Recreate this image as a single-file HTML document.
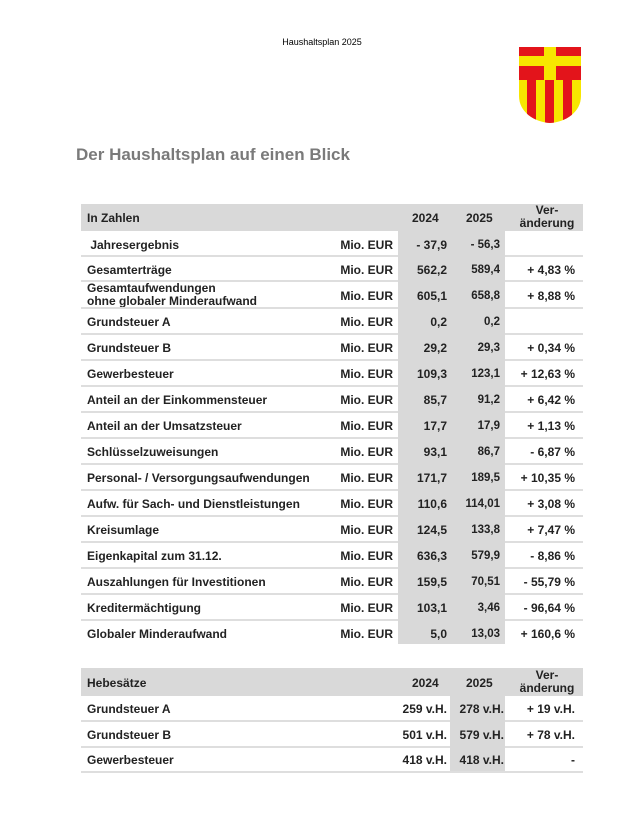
<!DOCTYPE html>
<html><head><meta charset="utf-8"><style>
body{margin:0;background:#fff;width:644px;height:838px;position:relative;font-family:"Liberation Sans",Arial,sans-serif;font-weight:bold;color:#222;}
.hdr{position:absolute;top:37px;left:0;width:644px;text-align:center;font-size:9px;font-weight:normal;color:#000}
.title{position:absolute;left:76px;top:145px;font-size:17px;color:#7a7a7a}
.t{position:absolute;left:81px;width:502px}
.g{position:absolute;background:#d9d9d9}
.s{position:absolute;left:0;width:502px;height:2px;background:#dedede}
.c{position:absolute;white-space:nowrap}
</style></head><body>
<div class="hdr">Haushaltsplan 2025</div>
<svg style="position:absolute;left:518px;top:46px" width="64" height="78" viewBox="0 0 64 78">
<defs><clipPath id="sh"><path d="M1,1H63V50C63,66 48,76 32,77C16,76 1,66 1,50Z"/></clipPath></defs>
<g clip-path="url(#sh)">
<rect width="64" height="78" fill="#f7e600"/>
<rect x="0" y="1" width="64" height="33" fill="#e3141b"/>
<rect x="0" y="10" width="64" height="10" fill="#f7e600"/>
<rect x="26" y="1" width="12" height="33" fill="#f7e600"/>
<rect x="9" y="34" width="9" height="44" fill="#e3141b"/>
<rect x="27" y="34" width="9" height="44" fill="#e3141b"/>
<rect x="45" y="34" width="9" height="44" fill="#e3141b"/>
</g></svg>
<div class="title">Der Haushaltsplan auf einen Blick</div>

<div class="t" style="top:204px;height:442px">
<div class="g" style="left:0;top:0;width:502px;height:27px"></div>
<div class="g" style="left:317px;top:27px;width:107px;height:413px"></div>
<div class="c" style="left:6px;top:7px;font-size:12px">In Zahlen</div>
<div class="c" style="left:331px;top:7px;font-size:12px">2024</div>
<div class="c" style="left:385px;top:7px;font-size:12px">2025</div>
<div class="c" style="left:436px;top:0px;font-size:12px;text-align:center;width:60px;line-height:13px">Ver-<br>änderung</div>
<div id="rows"></div>
</div>

<div class="t" style="top:668px;height:106px">
<div class="g" style="left:0;top:0;width:502px;height:28px"></div>
<div class="g" style="left:369px;top:28px;width:55px;height:76px"></div>
<div class="c" style="left:6px;top:8px;font-size:12px">Hebesätze</div>
<div class="c" style="left:331px;top:8px;font-size:12px">2024</div>
<div class="c" style="left:385px;top:8px;font-size:12px">2025</div>
<div class="c" style="left:436px;top:1px;font-size:12px;text-align:center;width:60px;line-height:13px">Ver-<br>änderung</div>
<div class="c" style="left:6px;top:34px;font-size:12px">Grundsteuer A</div>
<div class="c" style="right:136px;top:34px;font-size:12px">259 v.H.</div>
<div class="c" style="right:79px;top:34px;font-size:12px">278 v.H.</div>
<div class="c" style="right:8px;top:34px;font-size:12px">+ 19 v.H.</div>
<div class="s" style="top:52px;width:369px"></div><div class="s" style="top:52px;left:424px;width:78px"></div>
<div class="c" style="left:6px;top:60px;font-size:12px">Grundsteuer B</div>
<div class="c" style="right:136px;top:60px;font-size:12px">501 v.H.</div>
<div class="c" style="right:79px;top:60px;font-size:12px">579 v.H.</div>
<div class="c" style="right:8px;top:60px;font-size:12px">+ 78 v.H.</div>
<div class="s" style="top:78px;width:369px"></div><div class="s" style="top:78px;left:424px;width:78px"></div>
<div class="c" style="left:6px;top:85px;font-size:12px">Gewerbesteuer</div>
<div class="c" style="right:136px;top:85px;font-size:12px">418 v.H.</div>
<div class="c" style="right:79px;top:85px;font-size:12px">418 v.H.</div>
<div class="c" style="right:8px;top:85px;font-size:12px">-</div>
<div class="s" style="top:103px"></div>
</div>

<script>
var d=[["&nbsp;Jahresergebnis","- 37,9","- 56,3",""],
["Gesamterträge","562,2","589,4","+ 4,83 %"],
["Gesamtaufwendungen<br>ohne globaler Minderaufwand","605,1","658,8","+ 8,88 %"],
["Grundsteuer A","0,2","0,2",""],
["Grundsteuer B","29,2","29,3","+ 0,34 %"],
["Gewerbesteuer","109,3","123,1","+ 12,63 %"],
["Anteil an der Einkommensteuer","85,7","91,2","+ 6,42 %"],
["Anteil an der Umsatzsteuer","17,7","17,9","+ 1,13 %"],
["Schlüsselzuweisungen","93,1","86,7","- 6,87 %"],
["Personal- / Versorgungsaufwendungen","171,7","189,5","+ 10,35 %"],
["Aufw. für Sach- und Dienstleistungen","110,6","114,01","+ 3,08 %"],
["Kreisumlage","124,5","133,8","+ 7,47 %"],
["Eigenkapital zum 31.12.","636,3","579,9","- 8,86 %"],
["Auszahlungen für Investitionen","159,5","70,51","- 55,79 %"],
["Kreditermächtigung","103,1","3,46","- 96,64 %"],
["Globaler Minderaufwand","5,0","13,03","+ 160,6 %"]];
var h="",y=28;
d.forEach(function(r,i){var ht=(i==2)?27:(i<2?25:26);var c=y+ht/2-7;
var lab=i==2?'<div class="c" style="left:6px;top:'+(c-7)+'px;font-size:12px;line-height:13px">'+r[0]+'</div>':'<div class="c" style="left:6px;top:'+c+'px;font-size:12px">'+r[0]+'</div>';
h+=lab+'<div class="c" style="right:190px;top:'+c+'px;font-size:12px">Mio. EUR</div>'
+'<div class="c" style="right:136px;top:'+c+'px;font-size:12px">'+r[1]+'</div>'
+'<div class="c" style="right:83px;top:'+(c+1)+'px;font-size:11.5px">'+r[2]+'</div>'
+'<div class="c" style="right:8px;top:'+c+'px;font-size:12px">'+r[3]+'</div>';
y+=ht;
if(i<15)h+='<div class="s" style="top:'+(y-2)+'px;width:317px"></div><div class="s" style="top:'+(y-2)+'px;left:424px;width:78px"></div>';
});
document.getElementById("rows").innerHTML=h;
</script>
</body></html>
